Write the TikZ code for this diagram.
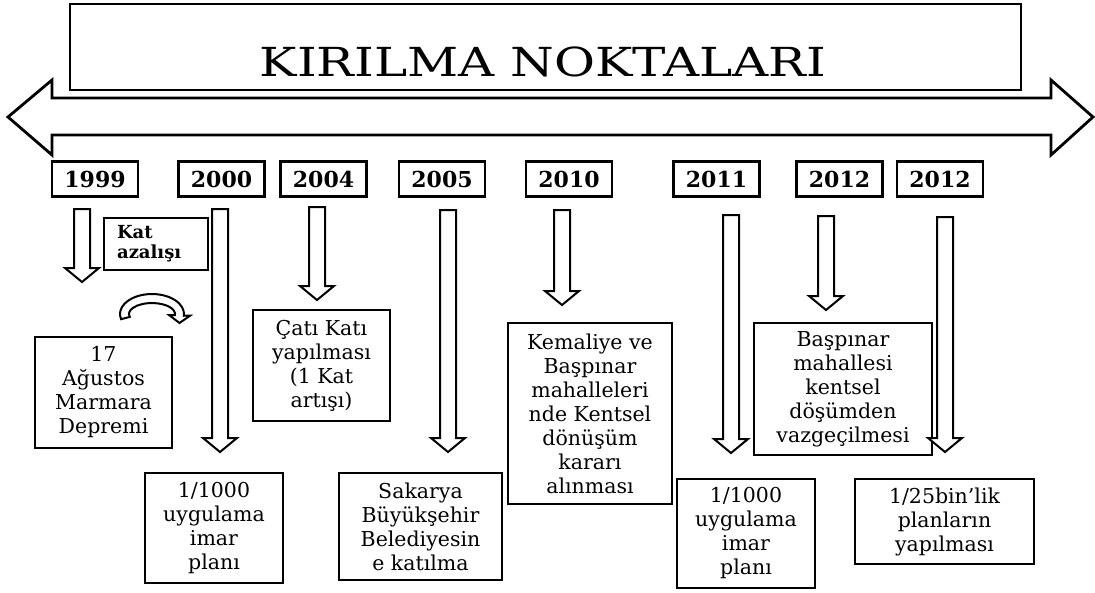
\documentclass[tikz,border=0pt]{standalone}
\usepackage{fontspec}
\setmainfont{DejaVu Serif}
\newfontfamily\titlefont[FakeStretch=1.25]{DejaVu Serif}

\tikzset{
    frame/.style={line width=2.8pt},
    yearbox/.style={draw, line width=2.2pt, minimum width=86pt, minimum height=35pt, inner sep=0pt,
        font=\fontsize{22}{26}\selectfont\bfseries},
    eventbox/.style={draw, line width=2.2pt, align=center, inner sep=0pt,
        font=\fontsize{20.5}{24}\selectfont},
    blockarrow/.style={draw, line width=2pt, fill=white, line join=miter}
}

\begin{document}
\begin{tikzpicture}[x=1pt,y=1pt]
            \useasboundingbox (0,0) rectangle (1095,-592);

            \draw[frame] (70,-4) rectangle (1021,-90);
            \node[font=\titlefont\fontsize{40}{46}\selectfont] (title) at (543,-62) {KIRILMA NOKTALARI};
            \draw[frame, line join=miter] (8,-117) -- (52,-80) -- (52,-98) -- (1051,-98) -- (1051,-80) -- (1093,-117)
                -- (1051,-155) -- (1051,-135) -- (52,-135) -- (52,-155) -- cycle;

            \node[yearbox] (y1999) at (95,-179) {1999};
            \node[yearbox] (y2000) at (221.5,-179) {2000};
            \node[yearbox] (y2004) at (323.5,-179) {2004};
            \node[yearbox] (y2005) at (442,-179) {2005};
            \node[yearbox] (y2010) at (569,-179) {2010};
            \node[yearbox] (y2011) at (716.5,-179) {2011};
            \node[yearbox] (y2012a) at (839.5,-179) {2012};
            \node[yearbox] (y2012b) at (940,-179) {2012};

            \node[draw, line width=2.2pt, anchor=north west, minimum width=104pt, minimum height=52pt,
                text width=78pt, inner xsep=13pt, inner ysep=0pt, align=left,
                font=\fontsize{18}{20}\selectfont\bfseries] (katazal) at (103,-217) {Kat\\azalışı};
            \node[eventbox, minimum width=137pt, minimum height=111pt] (deprem) at (103.5,-392.5) {17\\Ağustos\\Marmara\\Depremi};
            \node[eventbox, minimum width=138pt, minimum height=110pt] (plan2000) at (214,-528) {1/1000\\uygulama\\imar\\planı};
            \node[eventbox, minimum width=137pt, minimum height=111pt] (cati) at (321.5,-365.5) {Çatı Katı\\yapılması\\(1 Kat\\artışı)};
            \node[eventbox, minimum width=163pt, minimum height=107pt] (sakarya) at (420.5,-526.5) {Sakarya\\Büyükşehir\\Belediyesin\\e katılma};
            \node[eventbox, minimum width=164pt, minimum height=181pt] (kemaliye) at (590,-413.5) {Kemaliye ve\\Başpınar\\mahalleleri\\nde Kentsel\\dönüşüm\\kararı\\alınması};
            \node[eventbox, minimum width=178pt, minimum height=132pt] (baspinar) at (843,-389) {Başpınar\\mahallesi\\kentsel\\döşümden\\vazgeçilmesi};
            \node[eventbox, minimum width=138pt, minimum height=109pt] (plan2011) at (746,-533.5) {1/1000\\uygulama\\imar\\planı};
            \node[eventbox, minimum width=179pt, minimum height=85pt] (plan25) at (944.5,-521.5) {1/25bin’lik\\planların\\yapılması};

            \foreach \arx/\art/\arp in {82/209/282, 220/209/452, 317/207/300, 448/210/452,
                    562/210/305, 731/215/453, 826/216/310, 945/217/452}
                \draw[blockarrow] (\arx-8,-\art) -- (\arx+8,-\art) -- (\arx+8,-\arp+14) -- (\arx+17,-\arp+14)
                    -- (\arx,-\arp) -- (\arx-17,-\arp+14) -- (\arx-8,-\arp+14) -- cycle;

            \coordinate (bend) at (152,-314);
            \draw[blockarrow] (bend) ++(195:32 and 20) arc[start angle=195, end angle=-5, x radius=32, y radius=20]
                -- (190,-315.7) -- (179.5,-323) -- (169,-315) -- (174.9,-315)
                arc[start angle=-5, end angle=195, x radius=23, y radius=11] -- cycle;
        \end{tikzpicture}
\end{document}
